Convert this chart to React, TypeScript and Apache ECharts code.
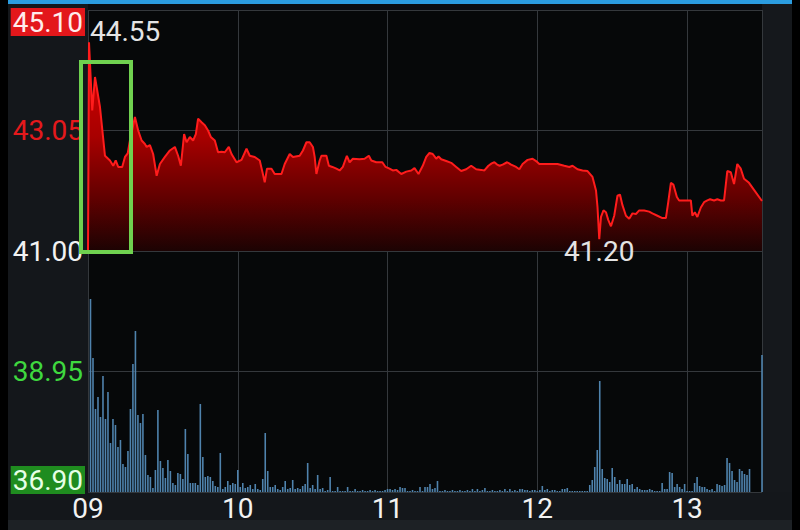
import React, { useEffect, useRef } from 'react';
import * as echarts from 'echarts';

// ---- data ----
const hourLabels = ['09', '10', '11', '12', '13'];
const prevClose = 41.0;
const limitUp = 45.1;
const limitDown = 36.9;
const tickStep = 2.05;

// intraday price samples: minutes after 09:00 and traded price (first point = previous close)
const priceMinute = [
  0, 0.4, 1.7, 2.8, 4.8, 6.8, 8.8, 10.1, 11.1, 12.1, 13.7, 14.8, 15.9, 16.8, 18.8, 20.1, 21.5, 22.8, 23.5, 24.8,
  26.1, 27.5, 28.8, 30.8, 32.8, 34.8, 36.1, 37.2, 38.5, 39.5, 40.8, 42.1, 43.2, 44.1, 45.5, 46.8, 48.1, 49.2, 50.8, 52.1,
  53.5, 54.8, 56.4, 57.5, 59.5, 61.5, 63.5, 64.8, 66.8, 68.8, 69.9, 70.8, 71.7, 73.5, 74.8, 77.5, 78.8, 80.8, 82.1, 84.8,
  86.1, 87.5, 88.8, 90.1, 90.8, 91.5, 92.8, 93.5, 95.5, 96.5, 97.9, 99.5, 100.8, 102.1, 103.7, 104.8, 106.1, 108.8, 110.8, 112.5,
  113.5, 115.5, 117.9, 119.2, 120.8, 122.1, 123.5, 125.5, 127.5, 129.5, 130.8, 132.4, 134.1, 135.5, 136.8, 138.1, 139.5, 140.4, 141.5, 143.5,
  145.5, 147.5, 149.5, 151.5, 153.5, 155.5, 157.5, 158.8, 160.4, 161.7, 162.8, 163.9, 164.9, 166.1, 167.9, 169.5, 171.5, 172.8, 174.1, 176.1,
  178.1, 179.5, 180.8, 182.8, 185.5, 188.1, 190.8, 192.8, 194.1, 196.1, 198.1, 200.1, 202.1, 203.5, 204.1, 204.8, 205.5, 206.5, 207.5, 208.4,
  209.5, 210.8, 212.1, 213.1, 214.1, 215.5, 216.8, 218.1, 219.5, 220.8, 222.8, 224.8, 226.1, 228.1, 230.1, 231.5, 232.4, 233.5, 234.5, 235.9,
  236.8, 238.8, 241.5, 242.1, 243.1, 244.1, 245.5, 246.8, 248.1, 249.2, 250.8, 252.1, 253.5, 254.8, 256.1, 257.5, 258.8, 260.1, 261.5, 262.8,
  264.8, 266.8, 270,
];
const priceValue = [
  41.0, 44.55, 43.39, 43.96, 43.45, 42.62, 42.54, 42.45, 42.54, 42.43, 42.43, 42.6, 42.66, 42.88, 43.28, 43.05, 42.88, 42.82, 42.77, 42.8,
  42.65, 42.28, 42.48, 42.6, 42.71, 42.77, 42.62, 42.45, 42.99, 42.85, 42.94, 42.88, 42.99, 43.25, 43.19, 43.14, 43.05, 42.94, 42.88, 42.68,
  42.69, 42.68, 42.77, 42.65, 42.51, 42.55, 42.74, 42.62, 42.6, 42.54, 42.34, 42.17, 42.4, 42.4, 42.31, 42.31, 42.48, 42.65, 42.6, 42.62,
  42.71, 42.85, 42.85, 42.77, 42.6, 42.31, 42.54, 42.62, 42.62, 42.45, 42.43, 42.4, 42.37, 42.43, 42.62, 42.51, 42.57, 42.56, 42.57, 42.62,
  42.54, 42.51, 42.51, 42.43, 42.4, 42.37, 42.38, 42.31, 42.35, 42.37, 42.41, 42.31, 42.45, 42.6, 42.67, 42.65, 42.57, 42.61, 42.56, 42.53,
  42.5, 42.43, 42.36, 42.39, 42.45, 42.39, 42.38, 42.37, 42.45, 42.49, 42.51, 42.47, 42.45, 42.47, 42.51, 42.47, 42.43, 42.39, 42.48, 42.55,
  42.57, 42.53, 42.48, 42.48, 42.48, 42.48, 42.45, 42.43, 42.45, 42.39, 42.37, 42.36, 42.26, 42.03, 41.75, 41.2, 41.58, 41.69, 41.66, 41.53,
  41.42, 41.6, 41.94, 41.96, 41.78, 41.6, 41.55, 41.64, 41.63, 41.69, 41.69, 41.67, 41.64, 41.6, 41.56, 41.56, 41.82, 42.16, 42.13, 41.92,
  41.86, 41.86, 41.86, 41.6, 41.66, 41.58, 41.74, 41.83, 41.86, 41.88, 41.86, 41.88, 41.86, 41.86, 42.36, 42.34, 42.14, 42.48, 42.4, 42.23,
  42.16, 42.04, 41.85,
];

// per-minute volume (lots), 09:01 .. 13:25, then the 13:30 closing auction
const minuteVolume = [
  1930, 1340, 830, 950, 750, 1160, 730, 1000, 490, 730,
  670, 450, 520, 280, 250, 410, 830, 1280, 1610, 770,
  690, 780, 370, 170, 150, 40, 220, 820, 310, 240,
  140, 320, 210, 90, 70, 190, 180, 130, 630, 380,
  90, 90, 90, 70, 880, 350, 150, 160, 150, 110,
  60, 50, 390, 30, 50, 110, 70, 90, 80, 220,
  50, 90, 40, 50, 70, 30, 80, 30, 20, 130,
  590, 210, 50, 50, 70, 30, 20, 50, 110, 30,
  40, 120, 30, 40, 30, 60, 80, 290, 40, 70,
  30, 170, 30, 40, 10, 20, 150, 10, 10, 50,
  10, 10, 10, 50, 10, 10, 30, 10, 10, 20,
  10, 10, 20, 10, 20, 10, 10, 10, 20, 30,
  30, 20, 30, 20, 50, 40, 40, 10, 10, 20,
  10, 10, 50, 10, 50, 50, 80, 30, 40, 110,
  10, 10, 20, 10, 10, 20, 10, 10, 20, 10,
  10, 20, 10, 30, 10, 30, 10, 20, 40, 10,
  10, 20, 10, 10, 20, 10, 30, 10, 30, 10,
  20, 10, 30, 30, 20, 20, 10, 20, 20, 10,
  20, 60, 20, 30, 10, 20, 20, 10, 10, 30,
  30, 40, 10, 10, 10, 10, 10, 10, 10, 10,
  70, 120, 250, 420, 1110, 230, 140, 130, 100, 240,
  150, 80, 120, 80, 80, 130, 70, 80, 30, 50,
  30, 20, 20, 20, 30, 20, 10, 10, 10, 90,
  30, 30, 200, 190, 50, 80, 50, 30, 80, 10,
  10, 10, 90, 150, 60, 50, 50, 30, 20, 30,
  10, 80, 70, 60, 70, 340, 290, 210, 120, 100,
  230, 210, 180, 170, 230,
];
const closingMinute = 270;
const closingVolume = 1370;
const volumeAxisMax = 4820;

export default function App() {
  const ref = useRef<HTMLDivElement>(null);
  useEffect(() => {
    if (!ref.current) return;
    const chart = echarts.init(ref.current, null, { renderer: 'svg' });

    const priceData = priceMinute.map((m, i) => [m, priceValue[i]]);
    const volData = minuteVolume.map((v, i) => [i + 1, v]);
    volData.push([closingMinute, closingVolume]);

    // day high / low among traded prices (skip the previous-close anchor)
    let hi = 1, lo = 1;
    for (let i = 1; i < priceValue.length; i++) {
      if (priceValue[i] > priceValue[hi]) hi = i;
      if (priceValue[i] < priceValue[lo]) lo = i;
    }

    const near = (a: number, b: number) => Math.abs(a - b) < 1e-6;

    chart.setOption({
      animation: false,
      backgroundColor: '#000000',
      graphic: [
        { type: 'rect', z: -10, shape: { x: 8, y: 4, width: 80, height: 516 }, style: { fill: '#14171b' } },
        { type: 'rect', z: -10, shape: { x: 762, y: 4, width: 30, height: 516 }, style: { fill: '#15181c' } },
        { type: 'rect', z: -10, shape: { x: 8, y: 492, width: 784, height: 28 }, style: { fill: '#14171b' } },
        { type: 'rect', z: -10, shape: { x: 8, y: 520, width: 784, height: 10 }, style: { fill: '#1d2125' } },
        { type: 'rect', z: -10, shape: { x: 88, y: 4, width: 674, height: 6 }, style: { fill: '#0a0d10' } },
        { type: 'rect', z: -10, shape: { x: 8, y: 0, width: 784, height: 4 }, style: { fill: '#2b9de0' } },
        {
          type: 'rect', z: 100,
          shape: { x: 81, y: 62, width: 50, height: 190 },
          style: { fill: 'none', stroke: '#6fd14f', lineWidth: 4 },
        },
      ],
      grid: {
        left: 88, right: 38, top: 10, bottom: 38,
        show: true, backgroundColor: '#060809', borderWidth: 0,
      },
      xAxis: {
        type: 'value', min: 0, max: 270, interval: 60,
        axisLine: { show: false }, axisTick: { show: false },
        splitLine: { show: true, lineStyle: { color: '#34383c', width: 1 } },
        axisLabel: {
          color: '#f2f2f2', fontSize: 28, fontFamily: 'Roboto', margin: 2, lineHeight: 28,
          formatter: (v: number) => (v % 60 === 0 ? hourLabels[v / 60] : ''),
        },
      },
      yAxis: [
        {
          type: 'value', min: limitDown, max: limitUp, interval: tickStep,
          axisLine: { show: false }, axisTick: { show: false },
          splitLine: { show: true, lineStyle: { color: '#34383c', width: 1 } },
          axisLabel: {
            margin: 3, fontFamily: 'Roboto', fontSize: 28,
            verticalAlignMaxLabel: 'top',
            verticalAlignMinLabel: 'bottom',
            formatter: (v: number) => {
              const s = v.toFixed(2);
              if (near(v, limitUp)) return `{up|${s}}`;
              if (near(v, limitDown)) return `{dn|${s}}`;
              if (v > prevClose + 1e-6) return `{r|${s}}`;
              if (v < prevClose - 1e-6) return `{g|${s}}`;
              return `{w|${s}}`;
            },
            rich: {
              up: { color: '#ffecec', backgroundColor: '#e3171b', fontSize: 28, fontFamily: 'Roboto', lineHeight: 24, padding: [0, 2] },
              dn: { color: '#e6ffe6', backgroundColor: '#1f8c1f', fontSize: 28, fontFamily: 'Roboto', lineHeight: 24, padding: [0, 2] },
              r: { color: '#e5191c', fontSize: 28, fontFamily: 'Roboto', padding: [0, 2] },
              g: { color: '#3fd83f', fontSize: 28, fontFamily: 'Roboto', padding: [0, 2] },
              w: { color: '#f2f2f2', fontSize: 28, fontFamily: 'Roboto', padding: [0, 2] },
            },
          },
        },
        { type: 'value', min: 0, max: volumeAxisMax, show: false, splitLine: { show: false } },
      ],
      series: [
        {
          type: 'bar', xAxisIndex: 0, yAxisIndex: 1, data: volData,
          barWidth: 1.6, itemStyle: { color: '#4f83ad' }, z: 1,
        },
        {
          type: 'line', xAxisIndex: 0, yAxisIndex: 0, data: priceData,
          showSymbol: false, symbol: 'none',
          lineStyle: { color: '#ff1c1c', width: 2 },
          areaStyle: {
            origin: prevClose,
            opacity: 1,
            color: new echarts.graphic.LinearGradient(0, 0, 0, 1, [
              { offset: 0, color: '#d80000' },
              { offset: 0.45, color: '#a80000' },
              { offset: 0.75, color: '#600000' },
              { offset: 1, color: '#1c0303' },
            ]),
          },
          z: 3,
          markPoint: {
            symbol: 'circle', symbolSize: 0,
            label: {
              color: '#e4e4e4', fontSize: 28, fontFamily: 'Roboto',
              formatter: (p: any) => Number(p.value).toFixed(2),
            },
            data: [
              {
                coord: [priceMinute[hi], priceValue[hi]], value: priceValue[hi],
                label: { position: [1, -11], align: 'left', verticalAlign: 'middle' },
              },
              {
                coord: [priceMinute[lo], priceValue[lo]], value: priceValue[lo],
                label: { position: [0, 12], align: 'center', verticalAlign: 'middle' },
              },
            ],
          },
        },
      ],
    });
    return () => chart.dispose();
  }, []);
  return <div ref={ref} style={{ position: 'fixed', left: 0, top: 0, width: 800, height: 530 }} />;
}
